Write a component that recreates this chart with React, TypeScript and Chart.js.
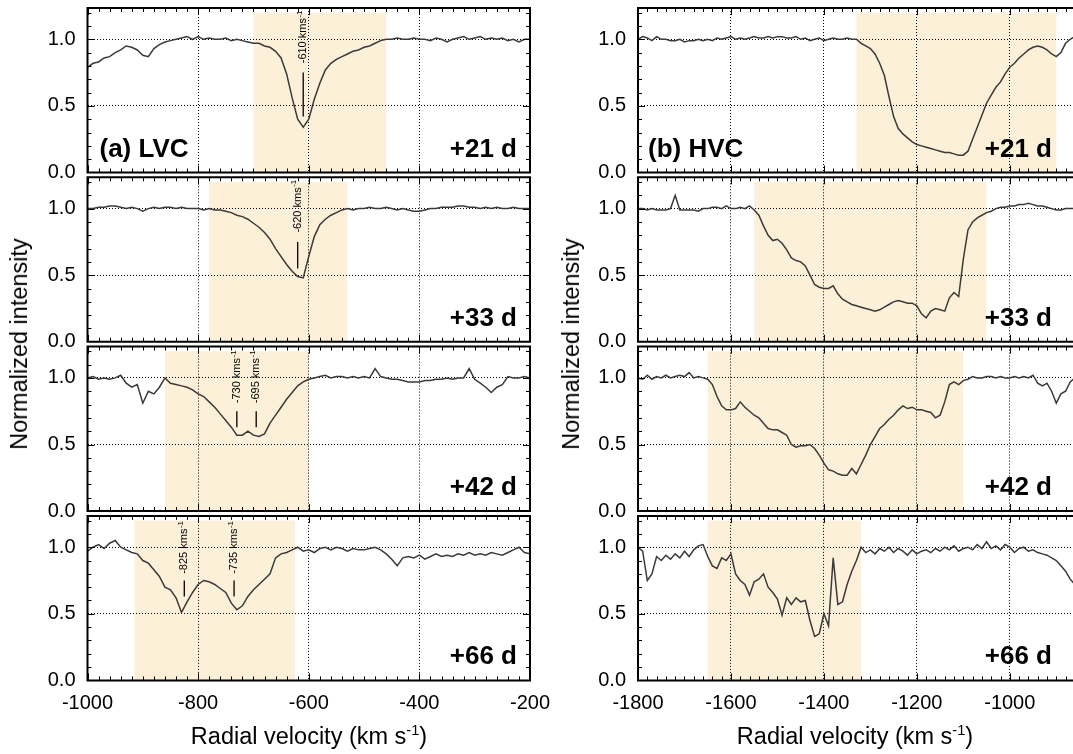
import React, { useEffect, useRef } from 'react';
import { Chart, registerables } from 'chart.js';

Chart.register(...registerables);

const FONT = "'Liberation Sans', Arial, Helvetica, sans-serif";

// ---------------- data ----------------
const LVC_VELOCITY = [
  -1000, -990, -980, -970, -960, -950, -940, -930, -920, -910,
  -900, -890, -880, -870, -860, -850, -840, -830, -820, -810,
  -800, -790, -780, -770, -760, -750, -740, -730, -720, -710,
  -700, -690, -680, -670, -660, -650, -640, -630, -620, -610,
  -600, -590, -580, -570, -560, -550, -540, -530, -520, -510,
  -500, -490, -480, -470, -460, -450, -440, -430, -420, -410,
  -400, -390, -380, -370, -360, -350, -340, -330, -320, -310,
  -300, -290, -280, -270, -260, -250, -240, -230, -220, -210,
  -200,
];

const HVC_VELOCITY = [
  -1800, -1790, -1780, -1770, -1760, -1750, -1740, -1730, -1720, -1710,
  -1700, -1690, -1680, -1670, -1660, -1650, -1640, -1630, -1620, -1610,
  -1600, -1590, -1580, -1570, -1560, -1550, -1540, -1530, -1520, -1510,
  -1500, -1490, -1480, -1470, -1460, -1450, -1440, -1430, -1420, -1410,
  -1400, -1390, -1380, -1370, -1360, -1350, -1340, -1330, -1320, -1310,
  -1300, -1290, -1280, -1270, -1260, -1250, -1240, -1230, -1220, -1210,
  -1200, -1190, -1180, -1170, -1160, -1150, -1140, -1130, -1120, -1110,
  -1100, -1090, -1080, -1070, -1060, -1050, -1040, -1030, -1020, -1010,
  -1000, -990, -980, -970, -960, -950, -940, -930, -920, -910,
  -900, -890, -880, -870, -860,
];

const LVC_21 = [
  0.79, 0.82, 0.83, 0.86, 0.87, 0.90, 0.92, 0.95, 0.94, 0.92,
  0.88, 0.87, 0.93, 0.96, 0.98, 0.99, 1.00, 1.01, 1.02, 1.00,
  1.02, 1.00, 1.01, 1.00, 1.00, 1.01, 0.99, 1.00, 0.99, 0.98,
  0.97, 0.97, 0.95, 0.94, 0.91, 0.86, 0.74, 0.56, 0.40, 0.34,
  0.40, 0.55, 0.67, 0.77, 0.82, 0.85, 0.87, 0.89, 0.91, 0.92,
  0.94, 0.95, 0.97, 0.99, 1.00, 1.00, 1.01, 1.00, 1.00, 1.01,
  1.00, 1.00, 0.99, 1.01, 1.00, 0.98, 1.00, 1.01, 1.02, 1.00,
  1.01, 1.02, 1.00, 1.01, 1.00, 1.01, 0.99, 1.00, 0.98, 1.00,
  1.00,
];

const LVC_33 = [
  1.00, 1.00, 1.01, 1.01, 1.02, 1.02, 1.01, 1.00, 1.01, 1.00,
  0.98, 1.00, 1.01, 1.00, 1.01, 1.01, 1.00, 1.01, 1.00, 1.00,
  1.00, 0.99, 1.00, 0.99, 0.99, 0.98, 0.97, 0.95, 0.94, 0.92,
  0.89, 0.86, 0.82, 0.77, 0.70, 0.64, 0.58, 0.53, 0.49, 0.48,
  0.64, 0.79, 0.88, 0.92, 0.95, 0.97, 0.99, 1.00, 0.99, 1.00,
  1.00, 1.01, 1.00, 1.00, 1.01, 1.00, 0.99, 1.00, 0.99, 0.98,
  0.98, 0.99, 1.00, 1.00, 1.01, 1.01, 1.01, 1.02, 1.02, 1.01,
  1.01, 1.00, 1.01, 1.00, 1.01, 1.00, 1.00, 1.01, 1.00, 1.00,
  1.00,
];

const LVC_42 = [
  1.00, 1.01, 0.99, 1.00, 0.99, 1.00, 1.02, 0.96, 0.93, 0.95,
  0.81, 0.90, 0.88, 0.93, 1.00, 0.96, 0.95, 0.94, 0.93, 0.91,
  0.88, 0.86, 0.82, 0.78, 0.73, 0.68, 0.63, 0.57, 0.57, 0.60,
  0.57, 0.56, 0.58, 0.66, 0.72, 0.78, 0.84, 0.89, 0.94, 0.97,
  0.99, 1.00, 1.01, 1.02, 1.00, 1.01, 1.01, 1.00, 1.01, 1.00,
  1.01, 1.00, 1.07, 1.01, 1.00, 0.99, 0.99, 0.98, 0.97, 0.97,
  0.97, 0.98, 0.98, 0.99, 0.99, 1.00, 0.99, 1.00, 1.00, 1.07,
  0.99, 0.96, 0.93, 0.89, 0.93, 0.95, 1.01, 1.00, 1.00, 1.01,
  1.00,
];

const LVC_66 = [
  0.97, 1.00, 1.02, 0.99, 1.03, 1.05, 1.00, 0.98, 0.96, 0.95,
  0.90, 0.88, 0.83, 0.78, 0.70, 0.68, 0.62, 0.51, 0.59, 0.66,
  0.72, 0.75, 0.74, 0.72, 0.69, 0.66, 0.58, 0.53, 0.56, 0.63,
  0.68, 0.72, 0.76, 0.80, 0.92, 0.95, 0.96, 0.98, 1.00, 0.97,
  0.98, 0.96, 0.99, 1.00, 0.98, 1.00, 0.99, 0.97, 0.99, 0.98,
  0.98, 0.99, 1.00, 0.98, 0.95, 0.91, 0.86, 0.92, 0.93, 0.92,
  0.94, 0.91, 0.93, 0.95, 0.93, 0.94, 0.93, 0.95, 0.94, 0.96,
  0.94, 0.95, 0.94, 0.96, 0.95, 0.94, 0.96, 0.98, 1.00, 0.96,
  0.95,
];

const HVC_21 = [
  1.00, 1.02, 1.01, 0.99, 1.02, 1.00, 1.00, 0.99, 0.99, 1.00,
  0.98, 0.99, 0.99, 1.00, 0.99, 1.00, 0.99, 1.01, 1.00, 1.01,
  1.02, 1.00, 1.01, 1.00, 1.01, 1.02, 1.01, 1.01, 1.02, 1.01,
  1.02, 1.02, 1.01, 1.01, 1.02, 1.00, 1.01, 0.99, 1.00, 1.01,
  0.99, 1.00, 1.01, 1.00, 1.00, 1.01, 1.00, 1.00, 0.97, 0.95,
  0.93, 0.89, 0.82, 0.73, 0.57, 0.42, 0.33, 0.29, 0.26, 0.23,
  0.21, 0.20, 0.19, 0.18, 0.17, 0.16, 0.15, 0.15, 0.14, 0.13,
  0.13, 0.16, 0.25, 0.34, 0.43, 0.52, 0.58, 0.64, 0.68, 0.74,
  0.79, 0.82, 0.86, 0.89, 0.92, 0.94, 0.95, 0.94, 0.92, 0.89,
  0.87, 0.90, 0.97, 1.00, 1.02,
];

const HVC_33 = [
  1.00, 1.00, 0.99, 1.00, 0.99, 0.99, 0.99, 1.00, 1.10, 0.99,
  0.99, 0.99, 0.99, 0.98, 1.00, 1.00, 1.01, 1.01, 1.00, 1.02,
  1.00, 1.00, 1.01, 1.00, 1.02, 0.99, 0.95, 0.87, 0.80, 0.76,
  0.77, 0.74, 0.69, 0.63, 0.61, 0.60, 0.57, 0.50, 0.43, 0.41,
  0.40, 0.40, 0.42, 0.36, 0.32, 0.30, 0.28, 0.27, 0.26, 0.25,
  0.24, 0.23, 0.24, 0.26, 0.28, 0.30, 0.31, 0.30, 0.29, 0.29,
  0.27, 0.21, 0.18, 0.23, 0.25, 0.24, 0.23, 0.33, 0.37, 0.34,
  0.62, 0.84, 0.90, 0.93, 0.95, 0.97, 0.98, 1.00, 1.01, 1.01,
  1.02, 1.02, 1.03, 1.03, 1.04, 1.03, 1.02, 1.02, 1.01, 1.00,
  0.99, 0.99, 1.00, 1.00, 1.00,
];

const HVC_42 = [
  1.00, 0.99, 1.02, 0.99, 1.01, 1.00, 1.02, 1.00, 1.01, 1.02,
  1.01, 1.04, 1.00, 1.01, 1.00, 0.99, 0.95, 0.86, 0.79, 0.76,
  0.76, 0.77, 0.82, 0.78, 0.75, 0.72, 0.70, 0.66, 0.62, 0.61,
  0.61, 0.59, 0.57, 0.50, 0.48, 0.49, 0.49, 0.50, 0.47, 0.42,
  0.36, 0.31, 0.30, 0.28, 0.27, 0.27, 0.32, 0.28, 0.35, 0.42,
  0.50, 0.56, 0.62, 0.65, 0.69, 0.72, 0.76, 0.79, 0.77, 0.78,
  0.76, 0.76, 0.75, 0.74, 0.70, 0.72, 0.82, 0.95, 0.97, 0.95,
  0.98, 0.99, 1.01, 1.00, 1.00, 1.01, 1.01, 1.00, 1.01, 1.00,
  1.00, 1.01, 1.00, 1.01, 1.00, 1.02, 0.96, 0.94, 0.96, 0.90,
  0.81, 0.88, 0.90, 0.97, 1.00,
];

const HVC_66 = [
  1.00, 0.97, 0.75, 0.80, 0.93, 0.90, 0.94, 0.91, 0.95, 0.92,
  0.97, 0.93, 0.98, 1.01, 1.02, 0.93, 0.86, 0.84, 0.92, 0.90,
  0.95, 0.80, 0.75, 0.72, 0.64, 0.74, 0.76, 0.80, 0.70, 0.66,
  0.61, 0.49, 0.62, 0.57, 0.62, 0.59, 0.60, 0.45, 0.33, 0.35,
  0.50, 0.41, 0.92, 0.57, 0.59, 0.72, 0.82, 0.90, 1.00, 0.96,
  0.98, 0.95, 0.99, 0.97, 1.00, 0.96, 0.99, 0.97, 0.94, 0.98,
  0.95, 0.97, 0.98, 0.96, 0.99, 0.97, 1.00, 0.98, 1.01, 0.97,
  0.99, 1.00, 0.98, 1.02, 0.99, 1.04, 0.99, 1.01, 0.98, 1.02,
  1.00, 0.96, 0.99, 1.00, 0.97, 0.98, 0.96, 0.95, 0.94, 0.92,
  0.90, 0.86, 0.82, 0.76, 0.72,
];

const EPOCH_LABELS = ['+21 d', '+33 d', '+42 d', '+66 d'];
const COLUMN_LABELS = ['(a) LVC', '(b) HVC'];
const LVC_X_TICKS = [-1000, -800, -600, -400, -200];
const HVC_X_TICKS = [-1800, -1600, -1400, -1200, -1000];
const Y_TICKS = [0, 0.5, 1.0];

const LVC_WINDOWS = [[-700, -460], [-780, -530], [-860, -600], [-915, -625]];
const HVC_WINDOWS = [[-1330, -900], [-1550, -1050], [-1650, -1100], [-1650, -1320]];

const LVC_MARK_VELOCITIES = [[-610], [-620], [-730, -695], [-825, -735]];
const LVC_MARK_LOW = [0.42, 0.55, 0.63, 0.63];
const MARK_HIGH = 0.75;
const MARK_TEXT_START = [0.82, 0.82, 0.81, 0.8];

const LVC_SERIES = [LVC_21, LVC_33, LVC_42, LVC_66];
const HVC_SERIES = [HVC_21, HVC_33, HVC_42, HVC_66];

// ---------------- layout ----------------
const ROW_TOPS = [8, 177.3, 346.6, 515.9];
const PANEL_HEIGHT = 164.5;
const Y_MAX = 1.235;
const SHADE_TOP = 1.2;
const SHADE_COLOR = '#FDF0D9';
const LINE_COLOR = '#3a3a3a';

const COLUMNS = [
  {
    canvasLeft: 0, canvasWidth: 575, areaLeft: 87.5, areaRight: 530,
    xMin: -1000, xMax: -200, rightBorder: true, labelLeftInset: 12, labelRightInset: 13,
    velocity: LVC_VELOCITY, series: LVC_SERIES, windows: LVC_WINDOWS, xTicks: LVC_X_TICKS,
  },
  {
    canvasLeft: 540, canvasWidth: 533, areaLeft: 638, areaRight: 1073,
    xMin: -1800, xMax: -864, rightBorder: false, labelLeftInset: 10, labelRightInset: 21,
    velocity: HVC_VELOCITY, series: HVC_SERIES, windows: HVC_WINDOWS, xTicks: HVC_X_TICKS,
  },
];

function Panel({ col, row }: { col: number; row: number }) {
  const ref = useRef<HTMLCanvasElement | null>(null);
  const c = COLUMNS[col];
  const isBottom = row === 3;
  const areaTop = ROW_TOPS[row];
  const areaBottom = areaTop + PANEL_HEIGHT;
  const canvasTop = Math.floor(areaTop) - 12;
  const canvasHeight = isBottom ? 754 - canvasTop : Math.ceil(areaBottom + 16) - canvasTop;
  const padTop = areaTop - canvasTop;
  const xAxisHeight = isBottom ? 754 - areaBottom : 0;
  const padBottom = isBottom ? 0 : canvasHeight - padTop - PANEL_HEIGHT;
  const yAxisWidth = c.areaLeft - c.canvasLeft;
  const padRight = c.canvasLeft + c.canvasWidth - c.areaRight;

  useEffect(() => {
    const canvas = ref.current;
    if (!canvas) return;
    const values = c.series[row];
    const win = c.windows[row];

    const decor = {
      id: 'decor' + col + row,
      beforeDraw(chart: any) {
        const { ctx, chartArea: a, scales } = chart;
        const x = scales.x;
        const y = scales.y;
        const x0 = x.getPixelForValue(win[0]);
        const x1 = x.getPixelForValue(win[1]);
        const yt = y.getPixelForValue(SHADE_TOP);
        ctx.save();
        ctx.fillStyle = SHADE_COLOR;
        ctx.fillRect(x0, yt, x1 - x0, a.bottom - yt);
        ctx.restore();
      },
      afterDraw(chart: any) {
        const { ctx, chartArea: a, scales } = chart;
        const x = scales.x;
        const y = scales.y;
        ctx.save();
        // minor/major ticks
        ctx.strokeStyle = '#000';
        ctx.lineWidth = 1;
        ctx.beginPath();
        const start = Math.ceil(c.xMin / 20) * 20;
        for (let v = start; v <= c.xMax; v += 20) {
          const px = Math.round(x.getPixelForValue(v)) + 0.5;
          const len = v % 200 === 0 ? 7 : 4;
          ctx.moveTo(px, a.top);
          ctx.lineTo(px, a.top + len);
          ctx.moveTo(px, a.bottom);
          ctx.lineTo(px, a.bottom - len);
        }
        for (let k = 1; k <= 12; k++) {
          const py = Math.round(y.getPixelForValue(k / 10)) + 0.5;
          const len = k % 5 === 0 ? 7 : 4;
          ctx.moveTo(a.left, py);
          ctx.lineTo(a.left + len, py);
          if (c.rightBorder) {
            ctx.moveTo(a.right, py);
            ctx.lineTo(a.right - len, py);
          }
        }
        ctx.stroke();
        // frame
        ctx.lineWidth = 2;
        ctx.beginPath();
        if (c.rightBorder) {
          ctx.rect(a.left, a.top, a.right - a.left, a.bottom - a.top);
        } else {
          ctx.moveTo(a.right + 2, a.top);
          ctx.lineTo(a.left, a.top);
          ctx.lineTo(a.left, a.bottom);
          ctx.lineTo(a.right + 2, a.bottom);
        }
        ctx.stroke();

        // velocity markers (LVC only)
        if (col === 0) {
          const marks = LVC_MARK_VELOCITIES[row];
          ctx.lineWidth = 1.3;
          ctx.beginPath();
          marks.forEach((m) => {
            const px = x.getPixelForValue(m);
            ctx.moveTo(px, y.getPixelForValue(MARK_HIGH));
            ctx.lineTo(px, y.getPixelForValue(LVC_MARK_LOW[row]));
          });
          ctx.stroke();
          marks.forEach((m) => {
            const px = x.getPixelForValue(m);
            const py = y.getPixelForValue(MARK_TEXT_START[row]);
            ctx.save();
            ctx.translate(px, py);
            ctx.rotate(-Math.PI / 2);
            ctx.fillStyle = '#000';
            ctx.textAlign = 'left';
            ctx.textBaseline = 'middle';
            ctx.font = `11px ${FONT}`;
            const main = `${m} kms`;
            ctx.fillText(main, 0, 0);
            const w = ctx.measureText(main).width;
            ctx.font = `8px ${FONT}`;
            ctx.fillText('-1', w + 0.5, -3.5);
            ctx.restore();
          });
        }

        // panel labels
        ctx.fillStyle = '#000';
        ctx.font = `bold 26px ${FONT}`;
        ctx.textBaseline = 'alphabetic';
        ctx.textAlign = 'right';
        ctx.fillText(EPOCH_LABELS[row], a.right - c.labelRightInset, a.bottom - 16);
        if (row === 0) {
          ctx.textAlign = 'left';
          ctx.fillText(COLUMN_LABELS[col], a.left + c.labelLeftInset, a.bottom - 16);
        }
        ctx.restore();
      },
    };

    const gridCfg = { color: '#000', lineWidth: 1, drawTicks: false };
    const borderCfg = { display: false, dash: [1, 2] };

    const chart = new Chart(canvas, {
      type: 'line',
      data: {
        datasets: [
          {
            data: c.velocity.map((v, i) => ({ x: v, y: values[i] })),
            borderColor: LINE_COLOR,
            borderWidth: 1.5,
            pointRadius: 0,
            tension: 0,
            fill: false,
          },
        ],
      },
      options: {
        responsive: false,
        animation: false,
        devicePixelRatio: 1,
        events: [],
        layout: { padding: { left: 0, right: padRight, top: padTop, bottom: padBottom } },
        plugins: { legend: { display: false }, tooltip: { enabled: false }, title: { display: false } },
        scales: {
          x: {
            type: 'linear',
            min: c.xMin,
            max: c.xMax,
            afterBuildTicks: (s: any) => {
              s.ticks = c.xTicks.map((value) => ({ value }));
            },
            afterFit: (s: any) => {
              s.height = xAxisHeight;
              s.paddingLeft = 0;
              s.paddingRight = 0;
            },
            ticks: {
              display: isBottom,
              autoSkip: false,
              maxRotation: 0,
              padding: 11,
              color: '#000',
              font: { size: 20, family: FONT },
              callback: (v: any) => String(v),
            },
            grid: gridCfg,
            border: borderCfg,
          },
          y: {
            type: 'linear',
            min: 0,
            max: Y_MAX,
            afterBuildTicks: (s: any) => {
              s.ticks = Y_TICKS.map((value) => ({ value }));
            },
            afterFit: (s: any) => {
              s.width = yAxisWidth;
              s.paddingTop = 0;
              s.paddingBottom = 0;
            },
            ticks: {
              padding: 12,
              color: '#000',
              font: { size: 20, family: FONT },
              callback: (v: any) => Number(v).toFixed(1),
            },
            grid: gridCfg,
            border: borderCfg,
          },
        },
      } as any,
      plugins: [decor],
    });
    return () => chart.destroy();
  }, []);

  return (
    <canvas
      ref={ref}
      width={c.canvasWidth}
      height={canvasHeight}
      style={{
        position: 'absolute',
        left: c.canvasLeft,
        top: canvasTop,
        width: c.canvasWidth,
        height: canvasHeight,
      }}
    />
  );
}

const titleStyle: React.CSSProperties = {
  position: 'absolute',
  fontFamily: FONT,
  fontSize: 23.5,
  lineHeight: '24px',
  whiteSpace: 'nowrap',
  color: '#000',
};

const supStyle: React.CSSProperties = { fontSize: '0.62em', verticalAlign: 'super', lineHeight: 0 };

export default function App() {
  const panels = [];
  for (let col = 0; col < 2; col++) {
    for (let row = 0; row < 4; row++) {
      panels.push(<Panel key={`${col}-${row}`} col={col} row={row} />);
    }
  }
  return (
    <div style={{ position: 'absolute', left: 0, top: 0, width: 1073, height: 754, overflow: 'hidden', background: '#fff' }}>
      {panels}
      <div style={{ ...titleStyle, left: 19, top: 344, transform: 'translate(-50%, -50%) rotate(-90deg)' }}>
        Normalized intensity
      </div>
      <div style={{ ...titleStyle, left: 571, top: 344, transform: 'translate(-50%, -50%) rotate(-90deg)' }}>
        Normalized intensity
      </div>
      <div style={{ ...titleStyle, left: 309, top: 724, transform: 'translateX(-50%)' }}>
        Radial velocity (km s<span style={supStyle}>-1</span>)
      </div>
      <div style={{ ...titleStyle, left: 855, top: 724, transform: 'translateX(-50%)' }}>
        Radial velocity (km s<span style={supStyle}>-1</span>)
      </div>
    </div>
  );
}
